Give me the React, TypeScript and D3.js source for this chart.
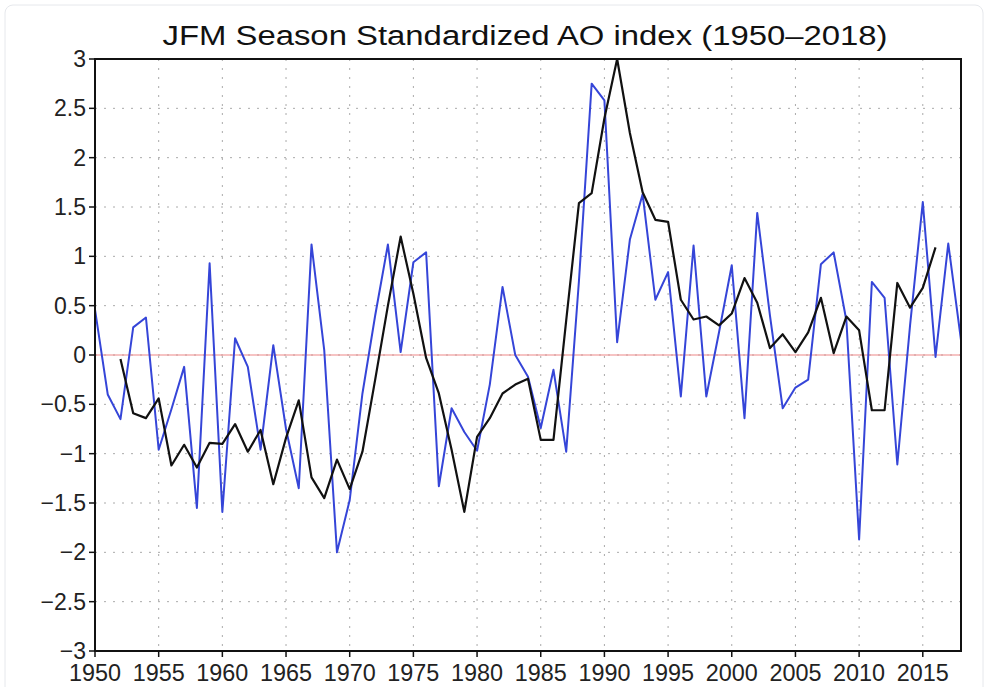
import React from "react";
import * as d3 from "d3";

// JFM standardized AO index
const years = d3.range(1950, 2019);
const aoIndex = [
  0.46, -0.4, -0.65, 0.28, 0.38, -0.96, -0.55, -0.12, -1.55, 0.93,
  -1.59, 0.17, -0.12, -0.96, 0.1, -0.75, -1.35, 1.12, 0.05, -2.0,
  -1.47, -0.39, 0.4, 1.12, 0.03, 0.94, 1.04, -1.33, -0.54, -0.78,
  -0.97, -0.3, 0.69, 0.0, -0.22, -0.74, -0.15, -0.98, 0.75, 2.75,
  2.58, 0.13, 1.17, 1.63, 0.56, 0.84, -0.42, 1.11, -0.42, 0.23,
  0.91, -0.64, 1.44, 0.4, -0.54, -0.33, -0.25, 0.92, 1.04, 0.35,
  -1.87, 0.74, 0.58, -1.11, 0.3, 1.55, -0.02, 1.13, 0.15,
];

// smoothed curve (1952-2016)
const smoothYears = d3.range(1952, 2017);
const smoothIndex = [
  -0.04, -0.59, -0.64, -0.44, -1.12, -0.91, -1.14, -0.89,
  -0.9, -0.7, -0.98, -0.76, -1.31, -0.84, -0.46, -1.24, -1.45, -1.06,
  -1.36, -0.98, -0.25, 0.5, 1.2, 0.62, -0.03, -0.39, -0.96, -1.59,
  -0.83, -0.64, -0.39, -0.3, -0.24, -0.86, -0.86, 0.35, 1.54, 1.64,
  2.4, 3.0, 2.25, 1.65, 1.37, 1.35, 0.56, 0.36, 0.39, 0.3,
  0.42, 0.78, 0.53, 0.07, 0.21, 0.03, 0.23, 0.58, 0.02, 0.39,
  0.25, -0.56, -0.56, 0.73, 0.48, 0.68, 1.09,
];

const xTicks = d3.range(1950, 2016, 5);
const yTicks = d3.range(-3, 3.01, 0.5);

const W = 988;
const H = 687;
const left = 95, right = 961, top = 59, bottom = 651;

const fmt = (v: number) => {
  const s = String(Math.round(v * 10) / 10);
  return s.replace("-", "\u2212");
};

export default function App() {
  const x = d3.scaleLinear().domain([1950, 2018]).range([left, right]);
  const y = d3.scaleLinear().domain([-3, 3]).range([bottom, top]);

  const line = d3
    .line<[number, number]>()
    .x((d) => x(d[0]))
    .y((d) => y(d[1]));

  const blue = line(years.map((yr, i) => [yr, aoIndex[i]]));
  const black = line(smoothYears.map((yr, i) => [yr, smoothIndex[i]]));

  const font = "'Liberation Sans', Arial, sans-serif";

  return (
    <svg
      width={W}
      height={H}
      style={{ position: "absolute", left: 0, top: 0, background: "#fff" }}
    >
      <rect x={5} y={5} width={978} height={690} rx={8} fill="#fff" stroke="#e6e8ec" />
      <text
        x={525}
        y={45}
        textAnchor="middle"
        fontFamily={font}
        fontSize={27}
        textLength={725}
        lengthAdjust="spacingAndGlyphs"
        fill="#111"
      >
        JFM Season Standardized AO index (1950–2018)
      </text>

      <defs>
        <clipPath id="plot">
          <rect x={left} y={top - 2} width={right - left} height={bottom - top + 4} />
        </clipPath>
      </defs>

      {/* grid */}
      {yTicks.map((t) => (
        <line
          key={"gy" + t}
          x1={left}
          x2={right}
          y1={y(t)}
          y2={y(t)}
          stroke="#aaa"
          strokeWidth={1}
          strokeDasharray="2,7"
        />
      ))}
      {xTicks.map((t) => (
        <line
          key={"gx" + t}
          x1={x(t)}
          x2={x(t)}
          y1={top}
          y2={bottom}
          stroke="#aaa"
          strokeWidth={1}
          strokeDasharray="2,7"
        />
      ))}

      <line x1={left} x2={right} y1={y(0)} y2={y(0)} stroke="#ee8888" strokeWidth={1.2} />

      <g clipPath="url(#plot)">
        <path d={blue ?? ""} fill="none" stroke="#3545d8" strokeWidth={2} strokeLinejoin="round" />
        <path d={black ?? ""} fill="none" stroke="#111" strokeWidth={2.2} strokeLinejoin="round" />
      </g>

      <rect x={left} y={top} width={right - left} height={bottom - top} fill="none" stroke="#111" strokeWidth={2} />

      {/* y axis */}
      {yTicks.map((t) => (
        <g key={"ty" + t}>
          <line x1={left - 6} x2={left} y1={y(t)} y2={y(t)} stroke="#111" strokeWidth={1.5} />
          <text
            x={left - 9}
            y={y(t) + 8}
            textAnchor="end"
            fontFamily={font}
            fontSize={23}
            fill="#222"
          >
            {fmt(t)}
          </text>
        </g>
      ))}

      {/* x axis */}
      {xTicks.map((t) => (
        <g key={"tx" + t}>
          <line x1={x(t)} x2={x(t)} y1={bottom} y2={bottom + 6} stroke="#111" strokeWidth={1.5} />
          <text
            x={x(t)}
            y={bottom + 30}
            textAnchor="middle"
            fontFamily={font}
            fontSize={23}
            textLength={52}
            lengthAdjust="spacingAndGlyphs"
            fill="#222"
          >
            {t}
          </text>
        </g>
      ))}
    </svg>
  );
}
